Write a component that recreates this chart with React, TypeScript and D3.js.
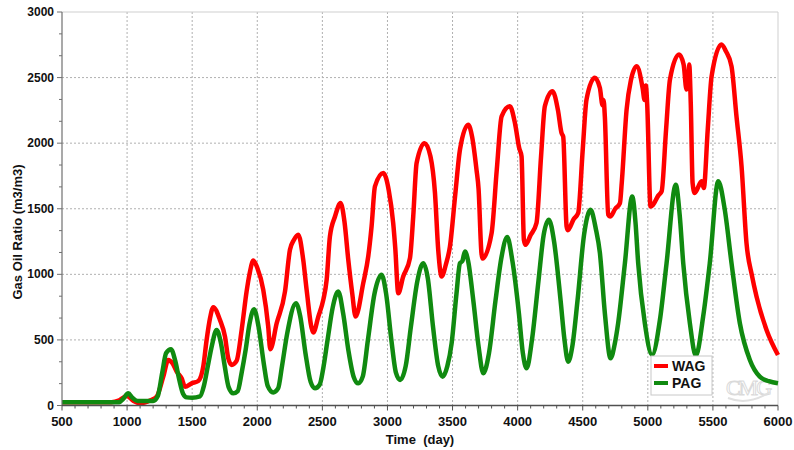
import * as d3 from "d3";

// Gas oil ratio (m3/m3) vs time (day)
const wagDays = [500, 880, 940, 997, 1050, 1099, 1180, 1227, 1278, 1316, 1350, 1381, 1419, 1445, 1496, 1547, 1585, 1611, 1637, 1662, 1713, 1752, 1777, 1803, 1841, 1880, 1918, 1940, 1970, 2000, 2046, 2084, 2100, 2149, 2213, 2251, 2280, 2315, 2353, 2379, 2430, 2469, 2507, 2533, 2558, 2597, 2640, 2670, 2699, 2730, 2755, 2814, 2853, 2878, 2904, 2968, 3010, 3044, 3060, 3083, 3121, 3173, 3198, 3224, 3285, 3330, 3365, 3390, 3416, 3450, 3480, 3520, 3557, 3620, 3650, 3684, 3700, 3722, 3730, 3800, 3840, 3877, 3940, 3980, 4012, 4030, 4048, 4060, 4100, 4145, 4180, 4209, 4268, 4310, 4337, 4350, 4376, 4385, 4430, 4465, 4500, 4529, 4593, 4632, 4652, 4660, 4670, 4696, 4710, 4750, 4786, 4800, 4837, 4870, 4915, 4960, 4975, 4985, 4995, 5021, 5040, 5080, 5106, 5140, 5170, 5240, 5275, 5297, 5310, 5318, 5330, 5344, 5360, 5413, 5430, 5460, 5490, 5566, 5600, 5643, 5681, 5720, 5758, 5800, 5835, 5912, 6000];
const wagGor = [25, 25, 40, 72, 35, 17, 40, 67, 220, 347, 320, 258, 207, 143, 169, 187, 296, 500, 665, 750, 653, 525, 360, 309, 340, 576, 869, 1000, 1105, 1050, 882, 602, 429, 627, 869, 1187, 1260, 1302, 1111, 882, 556, 678, 805, 958, 1289, 1441, 1543, 1400, 1111, 850, 678, 933, 1141, 1365, 1670, 1772, 1640, 1391, 1200, 856, 983, 1124, 1441, 1849, 2000, 1900, 1620, 1187, 983, 1080, 1212, 1600, 1950, 2141, 2050, 1798, 1650, 1162, 1120, 1314, 1800, 2205, 2281, 2150, 1963, 1900, 1263, 1225, 1300, 1391, 1900, 2281, 2396, 2250, 2078, 2050, 1365, 1336, 1420, 1467, 1950, 2332, 2498, 2420, 2290, 2330, 2200, 1454, 1440, 1500, 1543, 1700, 2256, 2480, 2586, 2420, 2330, 2440, 2300, 1518, 1530, 1600, 1632, 2100, 2485, 2676, 2600, 2409, 2450, 2600, 2300, 1696, 1620, 1709, 1658, 2100, 2510, 2752, 2700, 2586, 2205, 1823, 1238, 990, 831, 576, 385];

const pagDays = [500, 940, 970, 1009, 1040, 1080, 1200, 1235, 1270, 1300, 1337, 1370, 1400, 1430, 1458, 1500, 1560, 1590, 1620, 1650, 1688, 1720, 1750, 1780, 1816, 1850, 1880, 1910, 1940, 1975, 2010, 2050, 2080, 2123, 2160, 2190, 2230, 2297, 2330, 2370, 2410, 2443, 2480, 2507, 2540, 2580, 2622, 2660, 2700, 2740, 2776, 2810, 2850, 2900, 2955, 2990, 3030, 3065, 3097, 3140, 3180, 3230, 3275, 3310, 3350, 3390, 3424, 3460, 3493, 3530, 3557, 3575, 3595, 3620, 3659, 3700, 3736, 3780, 3830, 3877, 3920, 3960, 4010, 4040, 4069, 4110, 4160, 4200, 4240, 4280, 4330, 4360, 4388, 4420, 4460, 4510, 4560, 4600, 4632, 4670, 4714, 4747, 4772, 4824, 4880, 4905, 4926, 4977, 5033, 5093, 5144, 5215, 5245, 5272, 5323, 5369, 5425, 5476, 5541, 5590, 5643, 5707, 5784, 5860, 5930, 6000];
const pagGor = [25, 25, 50, 93, 60, 35, 35, 70, 250, 400, 429, 340, 200, 90, 62, 60, 70, 150, 300, 450, 576, 480, 300, 140, 93, 110, 250, 420, 620, 734, 600, 320, 150, 100, 130, 300, 550, 780, 680, 400, 180, 131, 160, 284, 500, 750, 869, 700, 420, 220, 169, 220, 500, 850, 996, 850, 500, 250, 195, 300, 600, 950, 1085, 970, 600, 300, 220, 300, 475, 850, 1085, 1100, 1174, 1100, 805, 450, 246, 400, 800, 1136, 1284, 1100, 700, 400, 284, 500, 950, 1300, 1416, 1250, 800, 500, 334, 450, 800, 1300, 1492, 1350, 1162, 704, 360, 475, 627, 1085, 1594, 1400, 1085, 627, 385, 653, 1085, 1683, 1450, 1085, 627, 378, 678, 1085, 1709, 1500, 1085, 627, 347, 220, 185, 169];

const xTicks = [500, 1000, 1500, 2000, 2500, 3000, 3500, 4000, 4500, 5000, 5500, 6000];
const yTicks = [0, 500, 1000, 1500, 2000, 2500, 3000];
const seriesNames = ["WAG", "PAG"];
const seriesColors = ["#ff0000", "#108a10"];

const W = 794, H = 450;
const left = 62, right = 778, top = 12, bottom = 405.5;
const font = "'Liberation Sans', Arial, sans-serif";

export default function App() {
  const x = d3.scaleLinear().domain([500, 6000]).range([left, right]);
  const y = d3.scaleLinear().domain([0, 3000]).range([bottom, top]);

  const line = d3.line<[number, number]>()
    .x(d => x(d[0]))
    .y(d => y(d[1]))
    .curve(d3.curveMonotoneX);

  const wag = wagDays.map((d, i) => [d, wagGor[i]] as [number, number]);
  const pag = pagDays.map((d, i) => [d, pagGor[i]] as [number, number]);

  const xMinor = d3.range(500, 6001, 100).filter(v => v % 500 !== 0);
  const yMinor = d3.range(0, 3000, 500 / 3).filter((v, i) => i % 3 !== 0);

  return (
    <svg width={W} height={H} style={{ position: "absolute", left: 0, top: 0, background: "#fff" }}
      fontFamily={font}>
      {/* grid */}
      {xTicks.slice(1, -1).map(t => (
        <line key={"gx" + t} x1={x(t)} x2={x(t)} y1={top} y2={bottom} stroke="#b0b0b0" strokeWidth={1} strokeDasharray="2,2" />
      ))}
      {yTicks.slice(1, -1).map(t => (
        <line key={"gy" + t} x1={left} x2={right} y1={y(t)} y2={y(t)} stroke="#b0b0b0" strokeWidth={1} strokeDasharray="2,2" />
      ))}
      {/* frame */}
      <line x1={left} x2={right} y1={top} y2={top} stroke="#cfcfcf" />
      <line x1={right} x2={right} y1={top} y2={bottom} stroke="#cfcfcf" />

      {/* watermark */}
      <text x={748} y={395} textAnchor="middle" fontSize={22} fill="none" stroke="#dadada" strokeWidth={1}
        fontFamily="'Liberation Serif', serif" letterSpacing={-2}>CMG</text>
      <path d="M728,398 Q748,406 770,392" fill="none" stroke="#e0e0e0" strokeWidth={2} />

      {/* series */}
      <path d={line(wag) ?? ""} fill="none" stroke={seriesColors[0]} strokeWidth={4.5} strokeLinejoin="round" />
      <path d={line(pag) ?? ""} fill="none" stroke={seriesColors[1]} strokeWidth={4.5} strokeLinejoin="round" />

      {/* axes */}
      <line x1={left} x2={left} y1={top} y2={bottom} stroke="#707070" strokeWidth={1.2} />
      <line x1={left} x2={right} y1={bottom} y2={bottom} stroke="#505050" strokeWidth={1.5} />
      {yTicks.map(t => (
        <g key={"yt" + t}>
          <line x1={left - 5} x2={left} y1={y(t)} y2={y(t)} stroke="#707070" />
          <text x={left - 8} y={y(t) + 4} textAnchor="end" fontSize={12} fontWeight="bold" fill="#111">{t}</text>
        </g>
      ))}
      {yMinor.map(t => (
        <line key={"ym" + t} x1={left - 3} x2={left} y1={y(t)} y2={y(t)} stroke="#707070" />
      ))}
      {xTicks.map(t => (
        <g key={"xt" + t}>
          <line x1={x(t)} x2={x(t)} y1={bottom} y2={bottom + 5} stroke="#505050" />
          <text x={x(t)} y={bottom + 20} textAnchor="middle" fontSize={13} fontWeight="bold" fill="#111">{t}</text>
        </g>
      ))}
      {xMinor.map(t => (
        <line key={"xm" + t} x1={x(t)} x2={x(t)} y1={bottom} y2={bottom + 3} stroke="#505050" />
      ))}

      {/* titles */}
      <text x={420} y={444} textAnchor="middle" fontSize={13} fontWeight="bold" fill="#111" style={{ whiteSpace: "pre" }}>Time  (day)</text>
      <text transform="translate(22,232) rotate(-90)" textAnchor="middle" fontSize={13} fontWeight="bold" fill="#111">Gas Oil Ratio (m3/m3)</text>

      {/* legend */}
      <rect x={651} y={356} width={61} height={39} fill="#fff" stroke="#c8c8c8" />
      {seriesNames.map((n, i) => (
        <g key={n}>
          <line x1={654} x2={668} y1={366 + i * 17} y2={366 + i * 17} stroke={seriesColors[i]} strokeWidth={4} />
          <text x={672} y={371 + i * 17} fontSize={14} fontWeight="bold" fill="#111">{n}</text>
        </g>
      ))}
    </svg>
  );
}
